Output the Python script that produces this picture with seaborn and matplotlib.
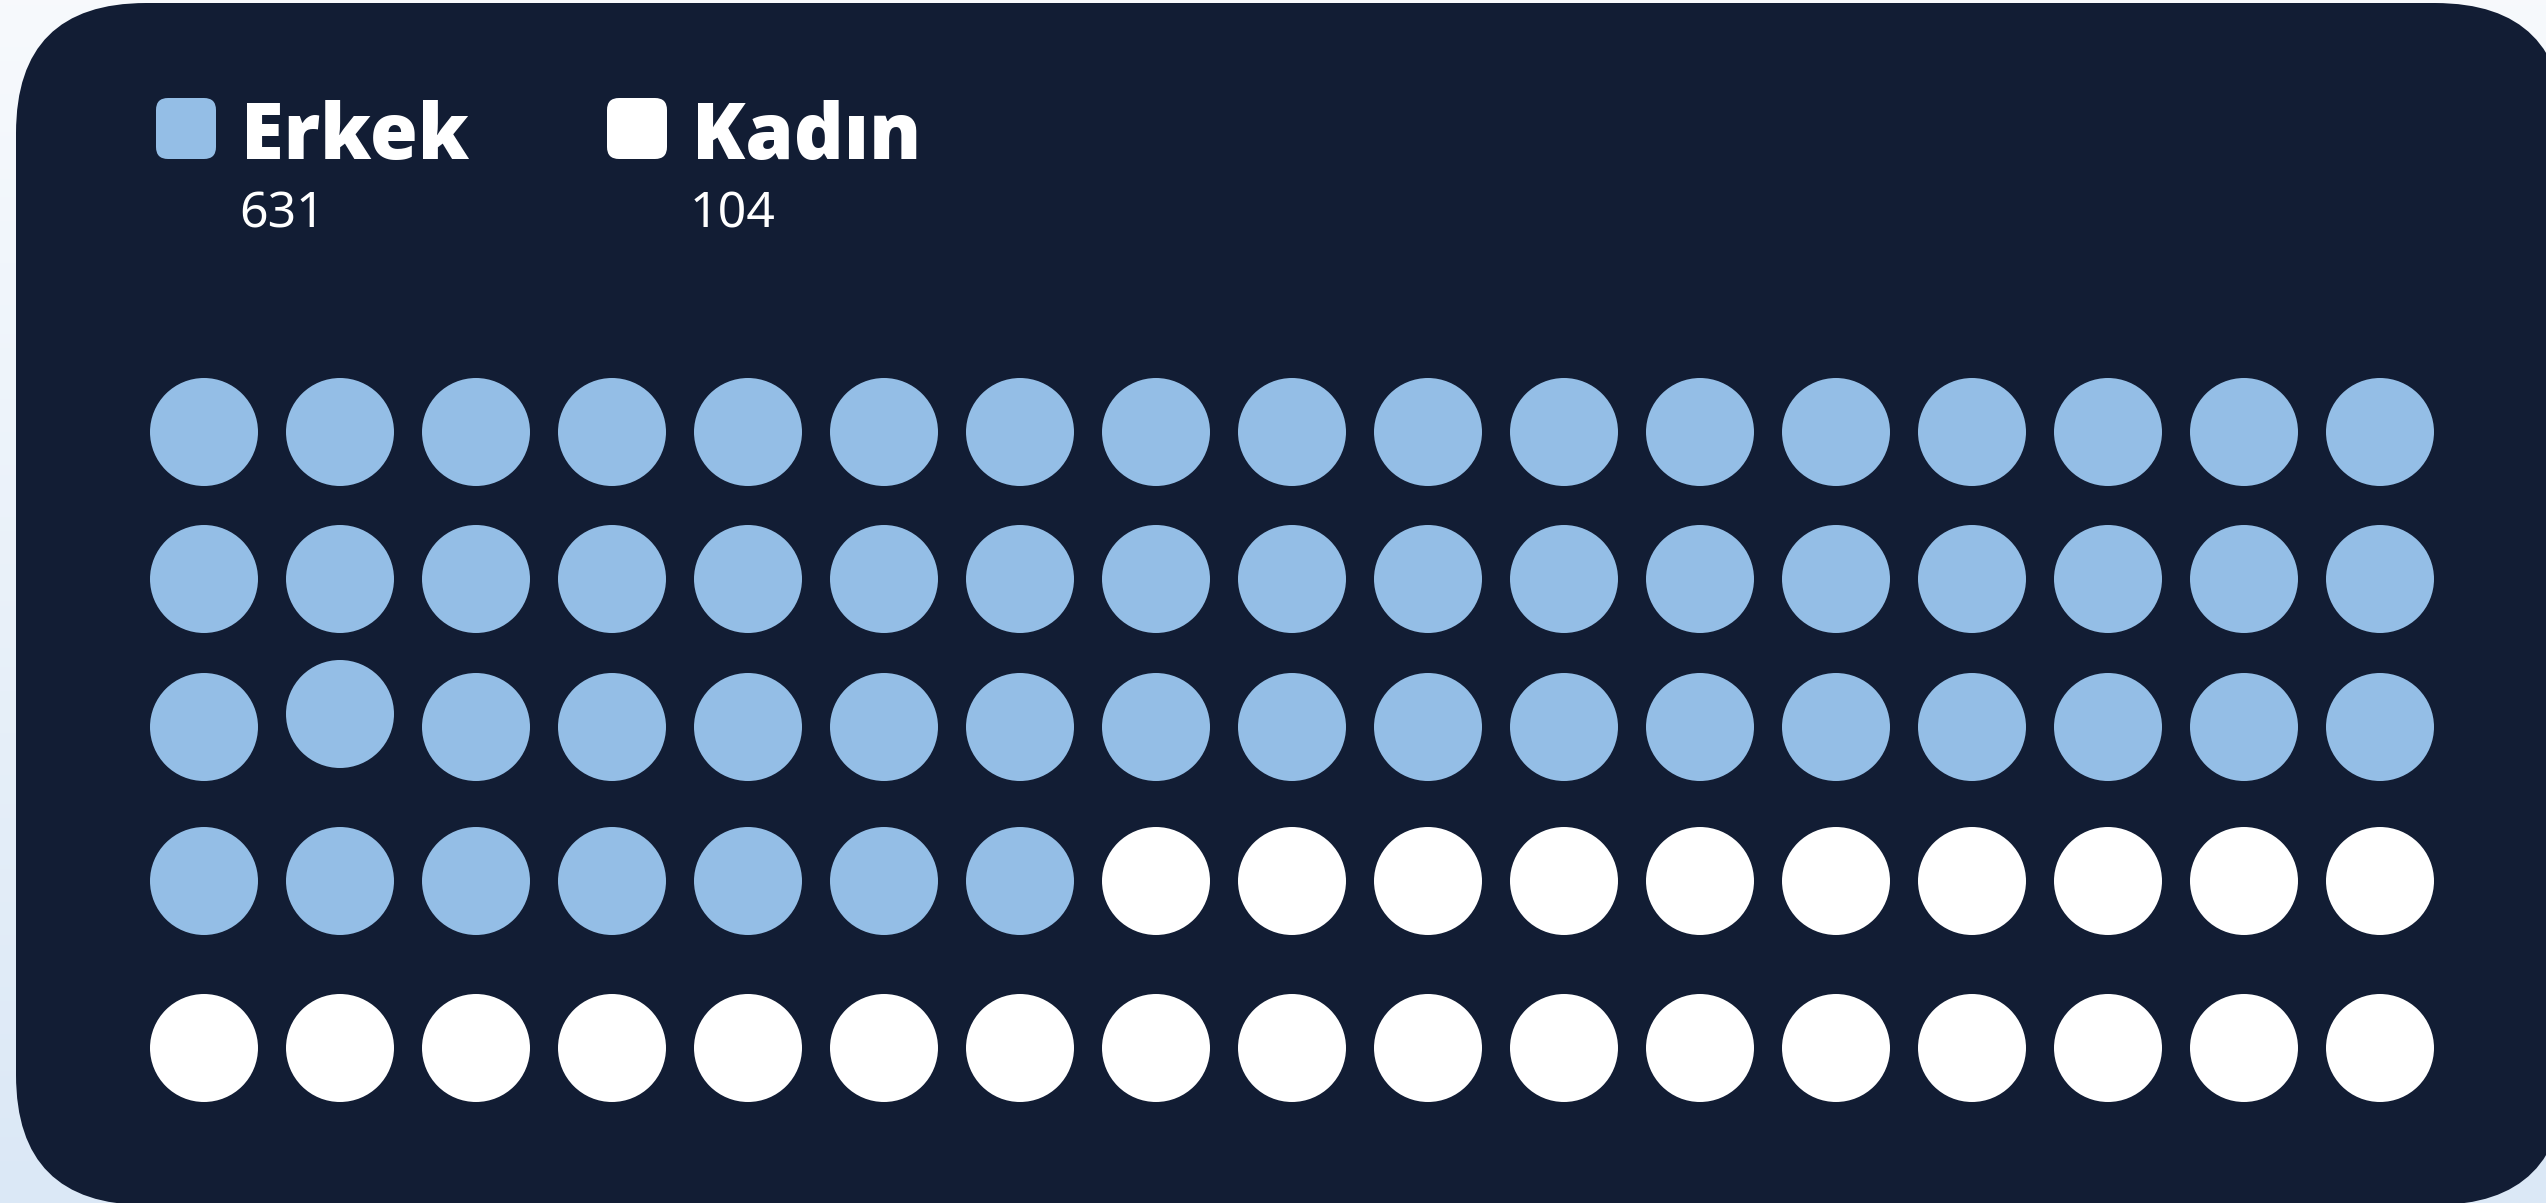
import numpy as np
import pandas as pd
import matplotlib
matplotlib.use("Agg")
import matplotlib.pyplot as plt
import seaborn as sns
from matplotlib.patches import FancyBboxPatch

# ---- data ----
categories = ["Erkek", "Kadın"]
totals = [631, 104]
dot_counts = [58, 27]
colors = ["#94bee6", "#ffffff"]

# ---- layout ----
W, H = 2546, 1203
n_cols = 17
row_centers_px = [432, 579, 727, 881, 1048]
col_spacing_px = 136
first_col_px = 204
lifted_dot = (2, 1)   # (row, col) drawn slightly raised, as in reference
lift_px = 13

sns.set_theme(style="white")
plt.rcParams['font.family'] = ['Open Sans', 'DejaVu Sans']

fig = plt.figure(figsize=(W / 100, H / 100), dpi=100)

# background gradient + card
bg = fig.add_axes([0, 0, 1, 1])
grad = np.linspace(0, 1, 256)[:, None, None]
top = np.array([0.969, 0.980, 0.992])
bottom = np.array([0.859, 0.910, 0.965])
img = top + (bottom - top) * grad
bg.imshow(img, extent=[0, W, H, 0], aspect="auto")
bg.set_xlim(0, W)
bg.set_ylim(H, 0)
bg.axis("off")
card = FancyBboxPatch((16, 3), 2549, 1202, boxstyle="round,pad=0,rounding_size=130",
                      fc="#121d34", ec="none")
bg.add_patch(card)

# legend
for i, (cat, tot, col) in enumerate(zip(categories, totals, colors)):
    x0 = 156 + i * 451
    sw = FancyBboxPatch((x0, 98), 60, 61, boxstyle="round,pad=0,rounding_size=12",
                        fc=col, ec="none")
    bg.add_patch(sw)
    bg.text(x0 + 85, 159, cat, fontsize=56, fontweight=800, color="white",
            va="baseline", ha="left", family=["Open Sans", "DejaVu Sans"])
    bg.text(x0 + 83, 228, str(tot), fontsize=36, fontweight="light", color="white",
            va="baseline", ha="left", family=["Noto Sans", "DejaVu Sans"])

# waffle data
labels = []
for cat, n in zip(categories, dot_counts):
    labels += [cat] * n
idx = np.arange(len(labels))
rows = idx // n_cols
cols = idx % n_cols
ys = np.array([row_centers_px[r] for r in rows], dtype=float)
for k in range(len(idx)):
    if (rows[k], cols[k]) == lifted_dot:
        ys[k] -= lift_px
df = pd.DataFrame({"col": cols, "y": ys, "category": labels})

ax = fig.add_axes([0, 0, 1, 1])
ax.patch.set_alpha(0)
diam_pt = 108 * 72 / 100
sns.scatterplot(data=df, x="col", y="y", hue="category",
                palette=dict(zip(categories, colors)), s=diam_pt ** 2,
                linewidth=0, legend=False, ax=ax)
left = -first_col_px / col_spacing_px
ax.set_xlim(left, left + W / col_spacing_px)
ax.set_ylim(H, 0)
ax.axis("off")

fig.savefig("out.png", dpi=100)
